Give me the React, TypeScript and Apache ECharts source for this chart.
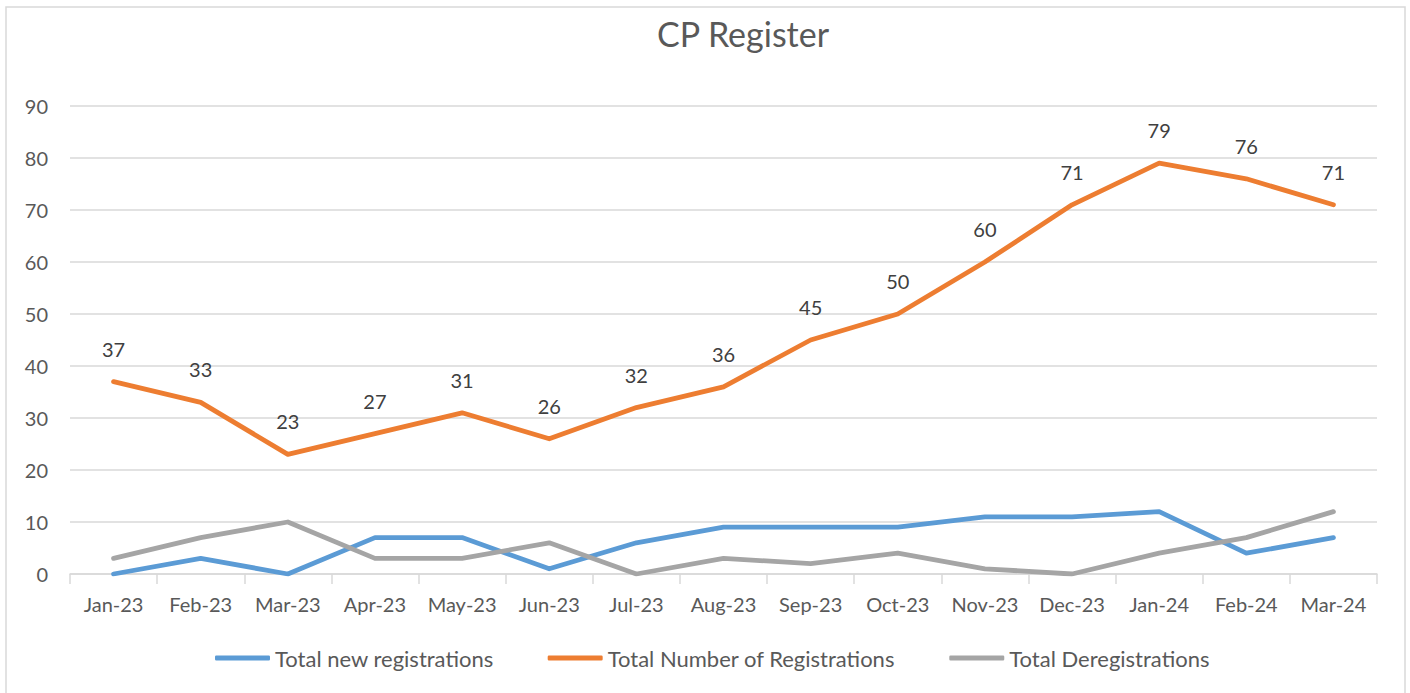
import React, { useEffect, useRef } from "react";
import * as echarts from "echarts";

const months = ["Jan-23","Feb-23","Mar-23","Apr-23","May-23","Jun-23","Jul-23","Aug-23","Sep-23","Oct-23","Nov-23","Dec-23","Jan-24","Feb-24","Mar-24"];
const newRegistrations = [0,3,0,7,7,1,6,9,9,9,11,11,12,4,7];
const totalRegistrations = [37,33,23,27,31,26,32,36,45,50,60,71,79,76,71];
const deregistrations = [3,7,10,3,3,6,0,3,2,4,1,0,4,7,12];
const yTicks = { min: 0, max: 90, interval: 10 };

const FONT = "Lato";

export default function App() {
  const ref = useRef<HTMLDivElement>(null);
  useEffect(() => {
    if (!ref.current) return;
    const chart = echarts.init(ref.current, undefined, { renderer: "svg" });
    const lineSeries = (name: string, data: number[], color: string, labels: boolean) => ({
      name,
      type: "line",
      data,
      symbol: "circle",
      symbolSize: 0.1,
      showSymbol: true,
      lineStyle: { color, width: 4.8, cap: "round", join: "round" },
      itemStyle: { color },
      label: labels
        ? { show: true, position: "top", distance: 23, fontSize: 20, color: "#404040", fontFamily: FONT }
        : { show: false },
      labelLayout: { hideOverlap: false },
      z: labels ? 3 : 2,
    });
    chart.setOption({
      animation: false,
      backgroundColor: "#ffffff",
      textStyle: { fontFamily: FONT },
      title: {
        text: "CP Register",
        left: 652,
        top: 11,
        textStyle: { fontSize: 34, fontWeight: "normal", color: "#595959", fontFamily: FONT },
      },
      graphic: [
        {
          type: "rect",
          shape: { x: 6, y: 7, width: 1399, height: 700 },
          style: { fill: "none", stroke: "#d9d9d9", lineWidth: 1.5 },
          silent: true,
        },
      ],
      legend: {
        top: 642,
        left: 210,
        itemWidth: 55,
        itemHeight: 5,
        itemGap: 54,
        icon: "roundRect",
        textStyle: { fontSize: 22, color: "#595959", fontFamily: FONT },
        data: ["Total new registrations", "Total Number of Registrations", "Total Deregistrations"],
      },
      grid: { left: 70, right: 33, top: 106, bottom: 119, containLabel: false },
      xAxis: {
        type: "category",
        data: months,
        boundaryGap: true,
        axisLine: { lineStyle: { color: "#d9d9d9", width: 1.5 } },
        axisTick: { show: true, length: 10, lineStyle: { color: "#d9d9d9", width: 1.5 } },
        axisLabel: { fontSize: 20, color: "#595959", margin: 20, interval: 0, fontFamily: FONT },
      },
      yAxis: {
        type: "value",
        min: yTicks.min,
        max: yTicks.max,
        interval: yTicks.interval,
        axisLine: { show: false },
        axisTick: { show: false },
        axisLabel: { fontSize: 20, color: "#595959", margin: 22, fontFamily: FONT },
        splitLine: { lineStyle: { color: "#d9d9d9", width: 1.5 } },
      },
      series: [
        lineSeries("Total new registrations", newRegistrations, "#5B9BD5", false),
        lineSeries("Total Number of Registrations", totalRegistrations, "#ED7D31", true),
        lineSeries("Total Deregistrations", deregistrations, "#A5A5A5", false),
      ],
    });
    return () => chart.dispose();
  }, []);
  return (
    <div
      ref={ref}
      style={{ position: "absolute", left: 0, top: 0, width: 1410, height: 693, background: "#fff" }}
    />
  );
}
